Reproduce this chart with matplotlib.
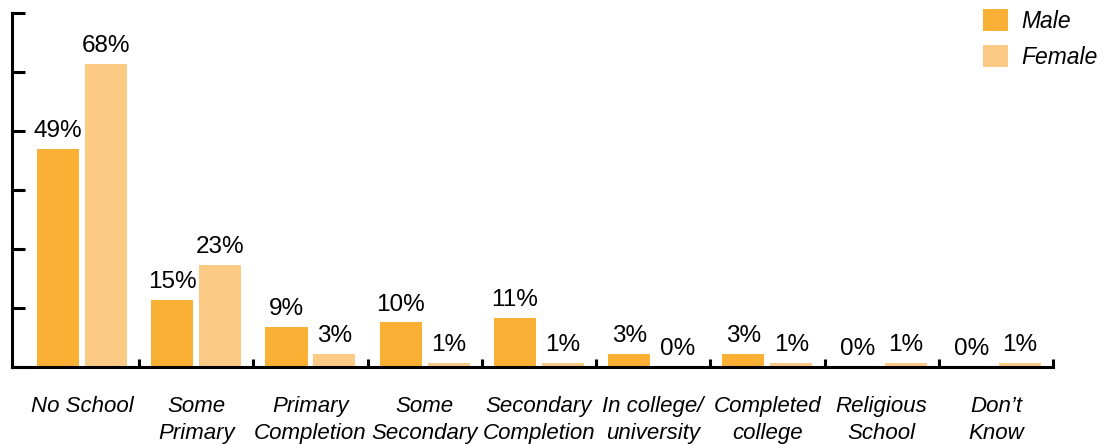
import numpy as np
import matplotlib.pyplot as plt

# Education level by sex (percent)
categories = ["No School", "Some\nPrimary", "Primary\nCompletion", "Some\nSecondary",
              "Secondary\nCompletion", "In college/\nuniversity", "Completed\ncollege",
              "Religious\nSchool", "Don\u2019t\nKnow"]
male = [49, 15, 9, 10, 11, 3, 3, 0, 0]
female = [68, 23, 3, 1, 1, 0, 1, 1, 1]

male_color = "#F9B034"
female_color = "#FBCB86"

plt.rcParams["font.family"] = ["Liberation Sans", "DejaVu Sans"]

fig = plt.figure(figsize=(11.13, 4.44), dpi=100)
ax = fig.add_axes([12 / 1113, 1 - 367 / 444, (1053 - 12) / 1113, (367 - 13) / 444])

x = np.arange(len(categories))
w = 0.368
off = 0.026
b1 = ax.bar(x - w / 2 - off, male, width=w, color=male_color, label="Male")
b2 = ax.bar(x + w / 2 + off, female, width=w, color=female_color, label="Female")

ax.bar_label(b1, labels=[f"{v}%" for v in male], padding=5, fontsize=17.5)
ax.bar_label(b2, labels=[f"{v}%" for v in female], padding=5, fontsize=17.5)

ax.set_xlim(-0.613, 8.5)
ax.set_ylim(0, 79.5)

for s in ["top", "right"]:
    ax.spines[s].set_visible(False)
for s in ["left", "bottom"]:
    ax.spines[s].set_linewidth(2.2)

ax.set_yticks(np.linspace(0, 79.5, 7))
ax.set_yticklabels([])
ax.tick_params(axis="y", direction="in", length=9, width=2.2)

# category boundary ticks on the x axis
ax.set_xticks(np.arange(0.5, 9, 1))
ax.set_xticklabels([])
ax.tick_params(axis="x", which="major", direction="in", length=6, width=2.2)
ax.set_xticks(x, minor=True)
ax.set_xticklabels(categories, minor=True, fontsize=16, style="italic", linespacing=1.35)
ax.tick_params(axis="x", which="minor", length=0, pad=21)

ax.legend(loc="upper left", bbox_to_anchor=(983 / 1113, 1 - 9 / 444),
          bbox_transform=fig.transFigure, frameon=False,
          prop={"style": "italic", "size": 16.5},
          handlelength=1.1, handleheight=1.1, handletextpad=0.55,
          labelspacing=0.55, borderaxespad=0, borderpad=0)

fig.savefig("out.png", dpi=100)
